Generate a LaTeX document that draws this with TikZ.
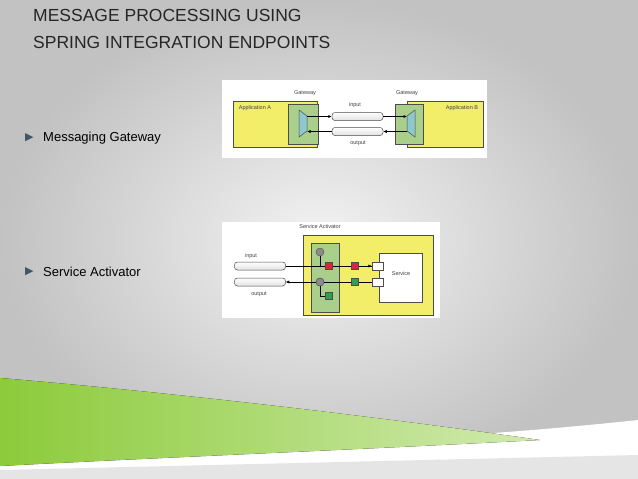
\documentclass[tikz,border=0pt]{standalone}
\usepackage{fontspec}
\setmainfont{Liberation Sans}
\newfontfamily\symfont{DejaVu Sans}
\usetikzlibrary{arrows.meta}
\definecolor{appyellow}{HTML}{F2EE6A}
\definecolor{gwgreen}{HTML}{A9CF8A}
\definecolor{gwblue}{HTML}{8FC7CF}
\definecolor{redmsg}{HTML}{D8283A}
\definecolor{greenmsg}{HTML}{2FA14A}
\definecolor{bullet}{HTML}{3F5866}
\definecolor{swoosh}{HTML}{8CCB3A}
\tikzset{
  box/.style={draw=black!70, line width=0.5pt, inner sep=0pt},
  pipe/.style={draw=black!70, line width=0.5pt, rounded corners=3pt, top color=white, bottom color=black!12, minimum width=51pt, minimum height=8pt, inner sep=0pt},
  lbl/.style={font=\fontsize{5.5}{6.5}\selectfont, text=black!75, inner sep=0pt},
  flow/.style={line width=0.5pt, -{Latex[length=3.5pt,width=3pt]}},
  msg/.style={draw=black!70, line width=0.4pt, minimum size=7pt, inner sep=0pt},
  port/.style={draw=black!70, fill=white, line width=0.4pt, minimum width=11pt, minimum height=7.5pt, inner sep=0pt},
  dot/.style={circle, draw=black!70, fill=black!45, minimum size=8pt, inner sep=0pt},
  item/.style={font=\fontsize{13}{15}\selectfont, anchor=west, inner sep=0pt}
}
\begin{document}
\begin{tikzpicture}[x=1pt,y=-1pt]
\useasboundingbox (0,0) rectangle (638,479);
% background
\shade[inner color=black!5, outer color=black!24] (0,0) rectangle (638,479);
\fill[white] (0,440) .. controls (250,450) and (450,440) .. (638,420) -- (638,470) -- (0,479) -- cycle;
\fill[black!10] (0,470) -- (638,455) -- (638,479) -- (0,479) -- cycle;
\fill[left color=swoosh, right color=swoosh!40] (0,378) .. controls (200,395) and (400,420) .. (540,440) .. controls (350,450) and (150,458) .. (0,466) -- cycle;
% title
\node[anchor=west, inner sep=0pt, font=\fontsize{17.5}{20}\selectfont, text=black!85] (t1) at (33,15) {MESSAGE PROCESSING USING};
\node[anchor=west, inner sep=0pt, font=\fontsize{17.5}{20}\selectfont, text=black!85] (t2) at (33,42) {SPRING INTEGRATION ENDPOINTS};
% bullets
\node[anchor=west, inner sep=0pt, text=bullet, font=\symfont\fontsize{11}{12}\selectfont] (b1) at (25,138) {▶};
\node[item] (i1) at (43,138) {Messaging Gateway};
\node[anchor=west, inner sep=0pt, text=bullet, font=\symfont\fontsize{11}{12}\selectfont] (b2) at (25,272) {▶};
\node[item] (i2) at (43,272) {Service Activator};
% gateway diagram
\fill[white] (222,80) rectangle (487,158);
\draw[box, fill=appyellow] (233,101) rectangle (317,147);
\draw[box, fill=gwgreen] (288,104) rectangle (318,144);
\draw[box, fill=gwblue] (299,110) -- (307,116) -- (307,131) -- (299,137) -- cycle;
\draw[box, fill=appyellow] (407,101) rectangle (483,147);
\draw[box, fill=gwgreen] (395,104) rectangle (423,144);
\draw[box, fill=gwblue] (415,110) -- (407,116) -- (407,131) -- (415,137) -- cycle;
\node[lbl] (ga) at (305,93) {Gateway};
\node[lbl] (gb) at (407,93) {Gateway};
\node[lbl] (appa) at (255,108) {Application A};
\node[lbl] (appb) at (462,108) {Application B};
\node[pipe] (pin) at (357.5,116.5) {};
\node[pipe] (pout) at (357.5,131.5) {};
\node[lbl] (lin) at (355,105) {input};
\node[lbl] (lout) at (358,143) {output};
\coordinate (ain) at (307,116.5);
\coordinate (aout) at (307,131.5);
\coordinate (bin) at (407,116.5);
\coordinate (bout) at (407,131.5);
\draw[flow] (ain) -- (pin.west);
\draw[flow] (pin.east) -- (bin);
\draw[flow] (bout) -- (pout.east);
\draw[flow] (pout.west) -- (aout);
% service activator diagram
\fill[white] (222,222) rectangle (440,318);
\draw[box, fill=appyellow] (303,235) rectangle (433,315);
\draw[box, fill=gwgreen] (311,243) rectangle (339,312);
\draw[box, fill=white] (379,253) rectangle (422,302);
\node[lbl] (sa) at (320,227) {Service Activator};
\node[lbl] (svc) at (401,274) {Service};
\node[pipe] (sin) at (260,266) {};
\node[pipe] (sout) at (260,282) {};
\node[lbl] (sl1) at (251,256) {input};
\node[lbl] (sl2) at (259,294) {output};
\node[port] (p1) at (377.5,266) {};
\node[port] (p2) at (377.5,282) {};
\node[dot] (c1) at (320,252) {};
\node[dot] (c2) at (320,282) {};
\draw[line width=0.5pt] (sin.east) -- (372,266);
\draw[line width=0.5pt] (c1) |- (329,266);
\draw[line width=0.5pt] (p2.west) -- (c2);
\draw[line width=0.5pt] (c2) |- (329,296);
\node[msg, fill=redmsg] (r1) at (329,266) {};
\node[msg, fill=redmsg] (r2) at (355,266) {};
\node[msg, fill=greenmsg] (g1) at (355,282) {};
\node[msg, fill=greenmsg] (g2) at (329,296) {};
\draw[flow] (r2) -- (p1.west);
\draw[flow] (c2) -- (sout.east);
\node[dot] at (320,282) {};
\end{tikzpicture}
\end{document}
